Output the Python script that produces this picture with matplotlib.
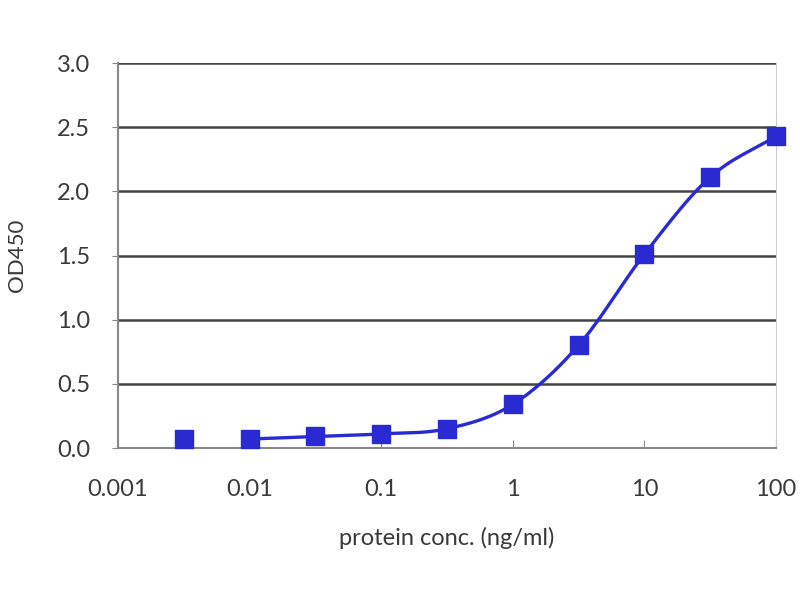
import numpy as np
import matplotlib.pyplot as plt

# protein concentration (ng/ml) and measured OD450
conc = [0.00316, 0.01, 0.0316, 0.1, 0.316, 1, 3.16, 10, 31.6, 100]
od450 = [0.07, 0.07, 0.09, 0.11, 0.15, 0.34, 0.80, 1.51, 2.11, 2.43]
x_ticks = [0.001, 0.01, 0.1, 1, 10, 100]
x_ticklabels = ['0.001', '0.01', '0.1', '1', '10', '100']
y_ticks = [0.0, 0.5, 1.0, 1.5, 2.0, 2.5, 3.0]

blue = '#2a2ad2'
grey = '#3a3a3a'
plt.rcParams['font.family'] = ['Lato', 'DejaVu Sans']


def smooth(xs, ys, n=30):
    # catmull-rom style smoothing in log-x space (like Excel's smoothed line)
    lx = np.log10(xs)
    ys = np.asarray(ys, float)
    px = np.concatenate([[2 * lx[0] - lx[1]], lx, [2 * lx[-1] - lx[-2]]])
    py = np.concatenate([[2 * ys[0] - ys[1]], ys, [2 * ys[-1] - ys[-2]]])
    outx, outy = [], []
    t = np.linspace(0, 1, n)
    for i in range(1, len(px) - 2):
        for p, out in ((px, outx), (py, outy)):
            p0, p1, p2, p3 = p[i - 1], p[i], p[i + 1], p[i + 2]
            out.extend(0.5 * ((2 * p1) + (-p0 + p2) * t
                              + (2 * p0 - 5 * p1 + 4 * p2 - p3) * t ** 2
                              + (-p0 + 3 * p1 - 3 * p2 + p3) * t ** 3))
    return 10 ** np.array(outx), np.array(outy)


fig = plt.figure(figsize=(8, 6), dpi=100)
ax = fig.add_axes([0.1475, 0.2533, 0.8225, 0.6417])

sx, sy = smooth(conc[1:], od450[1:])
ax.plot(sx, sy, color=blue, lw=2.4, zorder=3, clip_on=False)
ax.plot(conc, od450, 's', color=blue, ms=13, zorder=4, clip_on=False)

ax.set_xscale('log')
ax.set_xlim(0.001, 100)
ax.set_ylim(0, 3.0)
ax.set_xticks(x_ticks)
ax.set_xticklabels(x_ticklabels)
ax.minorticks_off()
ax.set_yticks(y_ticks)
ax.set_yticklabels([f'{v:.1f}' for v in y_ticks])

ax.yaxis.grid(True, color='#444444', lw=1.8)
ax.set_axisbelow(True)
ax.spines['top'].set_visible(False)
ax.spines['right'].set_color('#cccccc')
ax.spines['left'].set_color('#888888')
ax.spines['bottom'].set_color('#888888')
ax.spines['left'].set_linewidth(1.5)
ax.spines['bottom'].set_linewidth(1.5)

ax.tick_params(axis='x', direction='in', length=6, color='#888888',
               labelsize=17, labelcolor=grey, pad=22)
ax.tick_params(axis='y', direction='out', length=4, color='#888888',
               labelsize=17, labelcolor=grey, pad=16)

ax.set_xlabel('protein conc. (ng/ml)', fontsize=17, color=grey, labelpad=20)
ax.set_ylabel('OD450', fontsize=16, color=grey)
ax.yaxis.set_label_coords(-0.138, 0.5)

fig.savefig('out.png', dpi=100)
